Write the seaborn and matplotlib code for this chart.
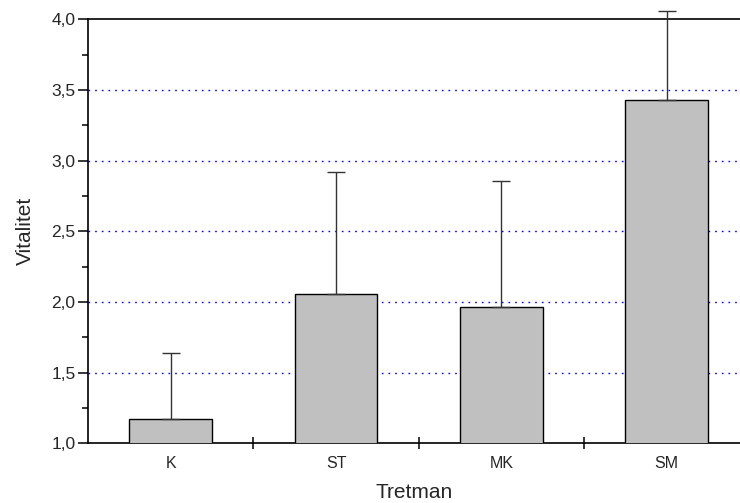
import matplotlib
matplotlib.use("Agg")
import matplotlib.pyplot as plt
import matplotlib.ticker as mticker
import seaborn as sns
import pandas as pd
import numpy as np

categories = ["K", "ST", "MK", "SM"]
means = [1.172, 2.059, 1.967, 3.431]
errors_up = [0.469, 0.859, 0.891, 0.630]

sns.set_style("white")
plt.rcParams["font.family"] = ["Liberation Sans", "DejaVu Sans"]

df = pd.DataFrame({"Tretman": categories, "Vitalitet": means})

fig = plt.figure(figsize=(7.40, 5.03), dpi=100)
ax = fig.add_axes([0.1189, 0.1187, 1.0 - 0.1189, 0.9616 - 0.1187])

sns.barplot(data=df, x="Tretman", y="Vitalitet", order=categories,
            color="#c0c0c0", width=0.5, edgecolor="black", linewidth=1.0,
            saturation=1, errorbar=None, ax=ax, zorder=3)

xpos = np.arange(len(categories))
ax.errorbar(xpos, means, yerr=[np.zeros(len(means)), errors_up], fmt="none",
            ecolor="#333333", elinewidth=1.0, capsize=6.5, capthick=1.0,
            zorder=4, clip_on=False)

ax.set_ylim(1.0, 4.0)
ax.set_xlim(-0.5, 3.443)

for v in [1.5, 2.0, 2.5, 3.0, 3.5]:
    ax.axhline(v, color="#0000ff", lw=1.0, linestyle=(0, (1.2, 3.6)), zorder=1)

ax.yaxis.set_major_locator(mticker.MultipleLocator(0.5))
ax.yaxis.set_minor_locator(mticker.MultipleLocator(0.25))
ax.yaxis.set_major_formatter(mticker.FuncFormatter(lambda v, p: f"{v:.1f}".replace(".", ",")))
ax.tick_params(axis="y", which="major", direction="out", length=7, width=1.1,
               labelsize=12.5, left=True, color="black", pad=2)
ax.tick_params(axis="y", which="minor", direction="out", length=4.3, width=1.1,
               left=True, color="black")

ax.set_xticks(xpos)
ax.set_xticklabels(categories)
ax.xaxis.set_minor_locator(mticker.FixedLocator([0.5, 1.5, 2.5]))
ax.tick_params(axis="x", which="major", length=0, labelsize=11.5, pad=9)
ax.tick_params(axis="x", which="minor", direction="inout", length=8, width=1.1,
               bottom=True, color="black")

for side in ["left", "bottom", "top"]:
    ax.spines[side].set_visible(True)
    ax.spines[side].set_color("black")
    ax.spines[side].set_linewidth(1.2)
ax.spines["right"].set_visible(False)

ax.set_xlabel("Tretman", fontsize=15, labelpad=9)
ax.set_ylabel("Vitalitet", fontsize=15, labelpad=12)

fig.savefig("out.png", dpi=100)
